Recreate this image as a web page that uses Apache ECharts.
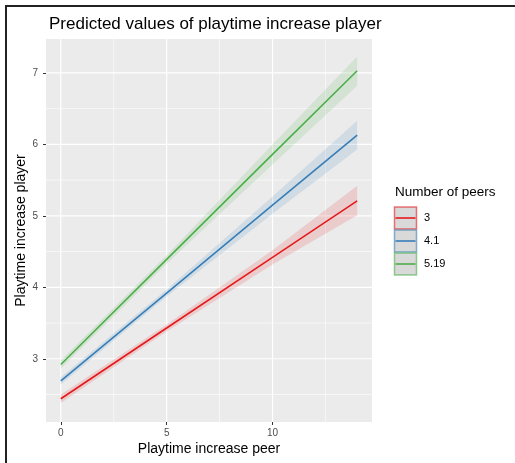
<!DOCTYPE html>
<html>
<head>
<meta charset="utf-8">
<script src="https://cdn.jsdelivr.net/npm/echarts@6/dist/echarts.min.js"></script>
<style>
html,body{margin:0;padding:0;background:#fff;}
#c{width:515px;height:463px;}
</style>
</head>
<body>
<div id="c"></div>
<script>
// ---- data ----
const peerX = [0, 5, 10, 14];
const groupNames = ['3', '4.1', '5.19'];
const fit3  = [2.44, 3.43, 4.42, 5.21];
const lo3   = [2.38, 3.38, 4.32, 5.01];
const hi3   = [2.50, 3.48, 4.52, 5.42];
const fit41 = [2.69, 3.92, 5.15, 6.13];
const lo41  = [2.64, 3.87, 5.03, 5.93];
const hi41  = [2.74, 3.97, 5.27, 6.33];
const fit519 = [2.92, 4.39, 5.86, 7.03];
const lo519  = [2.86, 4.33, 5.72, 6.82];
const hi519  = [2.98, 4.45, 6.00, 7.23];
const xTicks = [0, 5, 10];
const xMinor = [2.5, 7.5, 12.5];
const yTicks = [3, 4, 5, 6, 7];
const yMinor = [2.5, 3.5, 4.5, 5.5, 6.5];

const X_MIN = -0.7, X_MAX = 14.7, Y_MIN = 2.115, Y_MAX = 7.475;
const colors = ['#E41A1C', '#377EB8', '#4DAF4A'];
const bandColors = ['rgba(228,26,28,0.15)', 'rgba(55,126,184,0.15)', 'rgba(77,175,74,0.15)'];
const keyBorder = ['rgba(228,26,28,0.6)', 'rgba(55,126,184,0.6)', 'rgba(77,175,74,0.6)'];
const fits = [fit3, fit41, fit519];
const los = [lo3, lo41, lo519];
const his = [hi3, hi41, hi519];

const series = [];

// grid lines, positioned through the axes' scales
const gridData = [];
xMinor.forEach(v => gridData.push(['x', v, 0.6]));
yMinor.forEach(v => gridData.push(['y', v, 0.6]));
xTicks.forEach(v => gridData.push(['x', v, 1.2]));
yTicks.forEach(v => gridData.push(['y', v, 1.2]));
series.push({
  type: 'custom', name: 'grid', z: 1, silent: true, animation: false,
  data: gridData.map((d, i) => [i]),
  renderItem: function (params, api) {
    const d = gridData[params.dataIndex];
    let p1, p2;
    if (d[0] === 'x') { p1 = api.coord([d[1], Y_MIN]); p2 = api.coord([d[1], Y_MAX]); }
    else { p1 = api.coord([X_MIN, d[1]]); p2 = api.coord([X_MAX, d[1]]); }
    return {type: 'line', shape: {x1: p1[0], y1: p1[1], x2: p2[0], y2: p2[1]},
            style: {stroke: '#FFFFFF', lineWidth: d[2]}};
  },
  encode: {x: -1, y: -1}
});

// confidence bands
series.push({
  type: 'custom', name: 'bands', z: 2, silent: true, animation: false,
  data: groupNames.map((g, i) => [i]),
  renderItem: function (params, api) {
    const i = params.dataIndex;
    const pts = [];
    peerX.forEach((x, k) => pts.push(api.coord([x, his[i][k]])));
    for (let k = peerX.length - 1; k >= 0; k--) pts.push(api.coord([peerX[k], los[i][k]]));
    return {type: 'polygon', shape: {points: pts}, style: {fill: bandColors[i]}};
  },
  encode: {x: -1, y: -1}
});

groupNames.forEach((g, i) => {
  series.push({
    type: 'line', name: g, z: 3,
    data: peerX.map((x, k) => [x, fits[i][k]]),
    symbol: 'none', lineStyle: {color: colors[i], width: 1.6},
    itemStyle: {color: colors[i]}, animation: false
  });
});

// legend drawn as graphic elements (text kept as real text)
const legendGraphic = [
  {type: 'text', left: 395, top: 185, silent: true,
   style: {text: 'Number of peers', font: '13.5px "Liberation Sans"', fill: '#000000'}}
];
groupNames.forEach((g, i) => {
  const y0 = 207 + i * 23;
  legendGraphic.push({type: 'rect', silent: true, shape: {x: 394.5, y: y0, width: 22, height: 22},
    style: {fill: '#D9D9D9', stroke: keyBorder[i], lineWidth: 1.5}});
  legendGraphic.push({type: 'line', silent: true, shape: {x1: 395.5, y1: y0 + 11, x2: 415.5, y2: y0 + 11},
    style: {stroke: colors[i], lineWidth: 1.6}});
  legendGraphic.push({type: 'text', silent: true, x: 424, y: y0 + 11,
    style: {text: g, font: '11px "Liberation Sans"', fill: '#000000', verticalAlign: 'middle'}});
});

const chart = echarts.init(document.getElementById('c'), null, {renderer: 'canvas'});
chart.setOption({
  backgroundColor: '#FFFFFF',
  animation: false,
  title: {
    text: 'Predicted values of playtime increase player',
    left: 44, top: 11,
    textStyle: {fontFamily: 'Liberation Sans', fontSize: 17, fontWeight: 'normal', color: '#000000'}
  },
  grid: {
    left: 46, right: 143, top: 39, bottom: 41,
    show: true, backgroundColor: '#EBEBEB', borderWidth: 0
  },
  xAxis: {
    type: 'value', min: X_MIN, max: X_MAX,
    name: 'Playtime increase peer', nameLocation: 'middle', nameGap: 20, nameMoveOverlap: false,
    nameTextStyle: {fontFamily: 'Liberation Sans', fontSize: 14, color: '#000000'},
    axisLine: {show: false, onZero: false},
    splitLine: {show: false},
    axisTick: {show: true, length: 3, customValues: xTicks, lineStyle: {color: '#333333'}},
    axisLabel: {customValues: xTicks, margin: 6, fontFamily: 'Liberation Sans', fontSize: 10, color: '#4D4D4D'}
  },
  yAxis: {
    type: 'value', min: Y_MIN, max: Y_MAX,
    name: 'Playtime increase player', nameLocation: 'middle', nameGap: 18, nameMoveOverlap: false,
    nameTextStyle: {fontFamily: 'Liberation Sans', fontSize: 14, color: '#000000'},
    axisLine: {show: false, onZero: false},
    splitLine: {show: false},
    axisTick: {show: true, length: 3, customValues: yTicks, lineStyle: {color: '#333333'}},
    axisLabel: {customValues: yTicks, margin: 8, fontFamily: 'Liberation Sans', fontSize: 10, color: '#4D4D4D'}
  },
  graphic: legendGraphic.concat([
    {type: 'line', silent: true, shape: {x1: 5, y1: 6, x2: 515, y2: 6}, style: {stroke: '#222222', lineWidth: 2}},
    {type: 'line', silent: true, shape: {x1: 6, y1: 5, x2: 6, y2: 463}, style: {stroke: '#222222', lineWidth: 2}}
  ]),
  series: series
});
</script>
</body>
</html>
